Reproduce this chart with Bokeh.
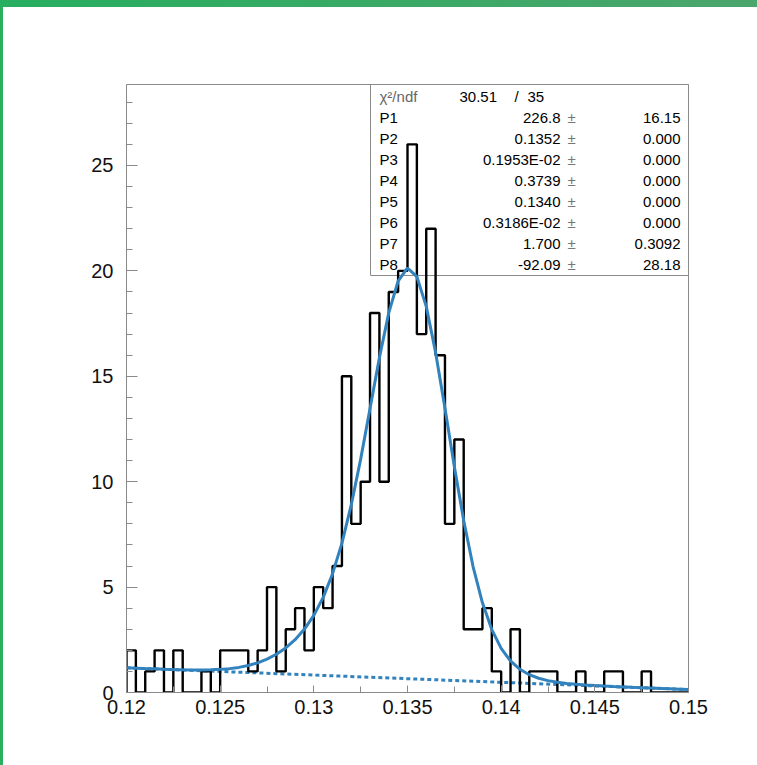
from bokeh.plotting import figure
from bokeh.models import Range1d, FixedTicker, Label
from bokeh.embed import file_html
from bokeh.resources import INLINE

# ---------------- data ----------------
bin_lo = 0.12
bin_hi = 0.15
bin_width = 0.0005
counts = [2, 0, 1, 2, 0, 2, 0, 0, 1, 0,
          2, 2, 2, 1, 2, 5, 1, 3, 4, 2,
          5, 4, 6, 15, 8, 10, 18, 10, 19, 20,
          26, 17, 22, 16, 8, 12, 3, 3, 4, 1,
          0, 3, 0, 1, 1, 1, 0, 0, 1, 0,
          0, 1, 1, 0, 0, 1, 0, 0, 0, 0]

fit_x = [round(0.12 + 0.0005 * i, 4) for i in range(61)]
fit_total = [1.170, 1.154, 1.137, 1.121, 1.105, 1.092, 1.080, 1.073, 1.071, 1.078,
             1.097, 1.132, 1.191, 1.280, 1.407, 1.582, 1.814, 2.116, 2.505, 3.008,
             3.660, 4.514, 5.636, 7.087, 8.909, 11.069, 13.468, 15.880, 18.007, 19.518,
             20.137, 19.724, 18.317, 16.128, 13.479, 10.722, 8.156, 5.974, 4.253, 2.983,
             2.093, 1.495, 1.101, 0.845, 0.677, 0.563, 0.484, 0.428, 0.386, 0.353,
             0.327, 0.304, 0.283, 0.264, 0.245, 0.228, 0.210, 0.193, 0.176, 0.159, 0.141]
bg_x = [0.12, 0.15]
bg_y = [1.17, 0.141]

x_ticks = [0.12, 0.125, 0.13, 0.135, 0.14, 0.145, 0.15]
x_tick_labels = ["0.12", "0.125", "0.13", "0.135", "0.14", "0.145", "0.15"]
x_minor = [0.1225, 0.1275, 0.1325, 0.1375, 0.1425, 0.1475]
y_ticks = [0, 5, 10, 15, 20, 25]
y_minor = [v for v in range(0, 29) if v % 5 != 0]

chi2_label = "\u03c7\u00b2/ndf"
chi2_val = "30.51"
ndf_val = "35"
par_names = ["P1", "P2", "P3", "P4", "P5", "P6", "P7", "P8"]
par_vals = ["226.8", "0.1352", "0.1953E-02", "0.3739", "0.1340", "0.3186E-02", "1.700", "-92.09"]
par_errs = ["16.15", "0.000", "0.000", "0.000", "0.000", "0.000", "0.3092", "28.18"]

# ---------------- figure ----------------
FONT = "Liberation Sans"
Y_TOP = 28.84
p = figure(width=757, height=765, x_range=Range1d(bin_lo, bin_hi), y_range=Range1d(0, Y_TOP),
           output_backend="svg", toolbar_location=None,
           min_border_left=126, min_border_right=69, min_border_top=84, min_border_bottom=73)
p.background_fill_color = "white"
p.border_fill_color = None
p.outline_line_color = "#8a8a8a"
p.outline_line_width = 1
p.xgrid.visible = False
p.ygrid.visible = False

# frame pixel -> data helpers (frame: x 126..688, y 84..692 on the page)
def sx(X):
    return bin_lo + (X - 126) * (bin_hi - bin_lo) / 562.0

def sy(Y):
    return (692 - Y) * Y_TOP / 608.0

# stats box
p.quad(left=[sx(370)], right=[bin_hi], top=[Y_TOP], bottom=[sy(275)],
       fill_color=None, line_color="#8a8a8a", line_width=1)

# background (dotted) and fit
p.line(bg_x, bg_y, line_color="#3182bd", line_width=3, line_dash="4 3")

# histogram outline
xs = [bin_lo] + [bin_lo + i * bin_width for i in range(len(counts) + 1)]
ys = [0] + counts + [counts[-1]]
p.step(xs, ys, mode="after", line_color="black", line_width=2.4)

p.line(fit_x, fit_total, line_color="#3182bd", line_width=3)

# stats text
TS = "15px"
row_y = [96 + 21 * k for k in range(9)]
p.add_layout(Label(x=sx(379), y=sy(row_y[0]), text=chi2_label, text_font=FONT, text_font_size=TS,
                   text_color="#666666", text_baseline="middle", text_align="left"))
p.add_layout(Label(x=sx(459), y=sy(row_y[0]), text=chi2_val, text_font=FONT, text_font_size=TS,
                   text_color="black", text_baseline="middle", text_align="left"))
p.add_layout(Label(x=sx(516), y=sy(row_y[0]), text="/", text_font=FONT, text_font_size=TS,
                   text_color="black", text_baseline="middle", text_align="center"))
p.add_layout(Label(x=sx(527), y=sy(row_y[0]), text=ndf_val, text_font=FONT, text_font_size=TS,
                   text_color="black", text_baseline="middle", text_align="left"))
for k in range(8):
    yy = sy(row_y[k + 1])
    p.add_layout(Label(x=sx(379), y=yy, text=par_names[k], text_font=FONT, text_font_size=TS,
                       text_color="black", text_baseline="middle", text_align="left"))
    p.add_layout(Label(x=sx(560), y=yy, text=par_vals[k], text_font=FONT, text_font_size=TS,
                       text_color="black", text_baseline="middle", text_align="right"))
    p.add_layout(Label(x=sx(571), y=yy, text="\u00b1", text_font=FONT, text_font_size=TS,
                       text_color="#777777", text_baseline="middle", text_align="center"))
    p.add_layout(Label(x=sx(680), y=yy, text=par_errs[k], text_font=FONT, text_font_size=TS,
                       text_color="black", text_baseline="middle", text_align="right"))

# axes
p.xaxis.ticker = FixedTicker(ticks=x_ticks, minor_ticks=x_minor)
p.xaxis.major_label_overrides = {t: l for t, l in zip(x_ticks, x_tick_labels)}
p.yaxis.ticker = FixedTicker(ticks=y_ticks, minor_ticks=y_minor)
for ax in (p.xaxis, p.yaxis):
    ax.axis_line_color = "#8a8a8a"
    ax.major_tick_line_color = "#8a8a8a"
    ax.minor_tick_line_color = "#8a8a8a"
    ax.major_tick_out = 0
    ax.minor_tick_out = 0
    ax.major_label_text_font = FONT
    ax.major_label_text_font_size = "20px"
    ax.major_label_text_color = "#111111"
p.xaxis.major_tick_in = 7
p.xaxis.minor_tick_in = 6
p.yaxis.major_tick_in = 11
p.yaxis.minor_tick_in = 6
p.xaxis.major_label_standoff = 7
p.yaxis.major_label_standoff = 13

html = file_html(p, INLINE)
style = ("<style>html{background:"
         "linear-gradient(to right,#27ae5f,#4ba56c) 0 0/100% 7px no-repeat,"
         "linear-gradient(#2bae5e,#2bae5e) 0 0/3px 100% no-repeat,#ffffff;}</style>")
html = html.replace("</head>", style + "</head>", 1)
open("out.html", "w").write(html)
